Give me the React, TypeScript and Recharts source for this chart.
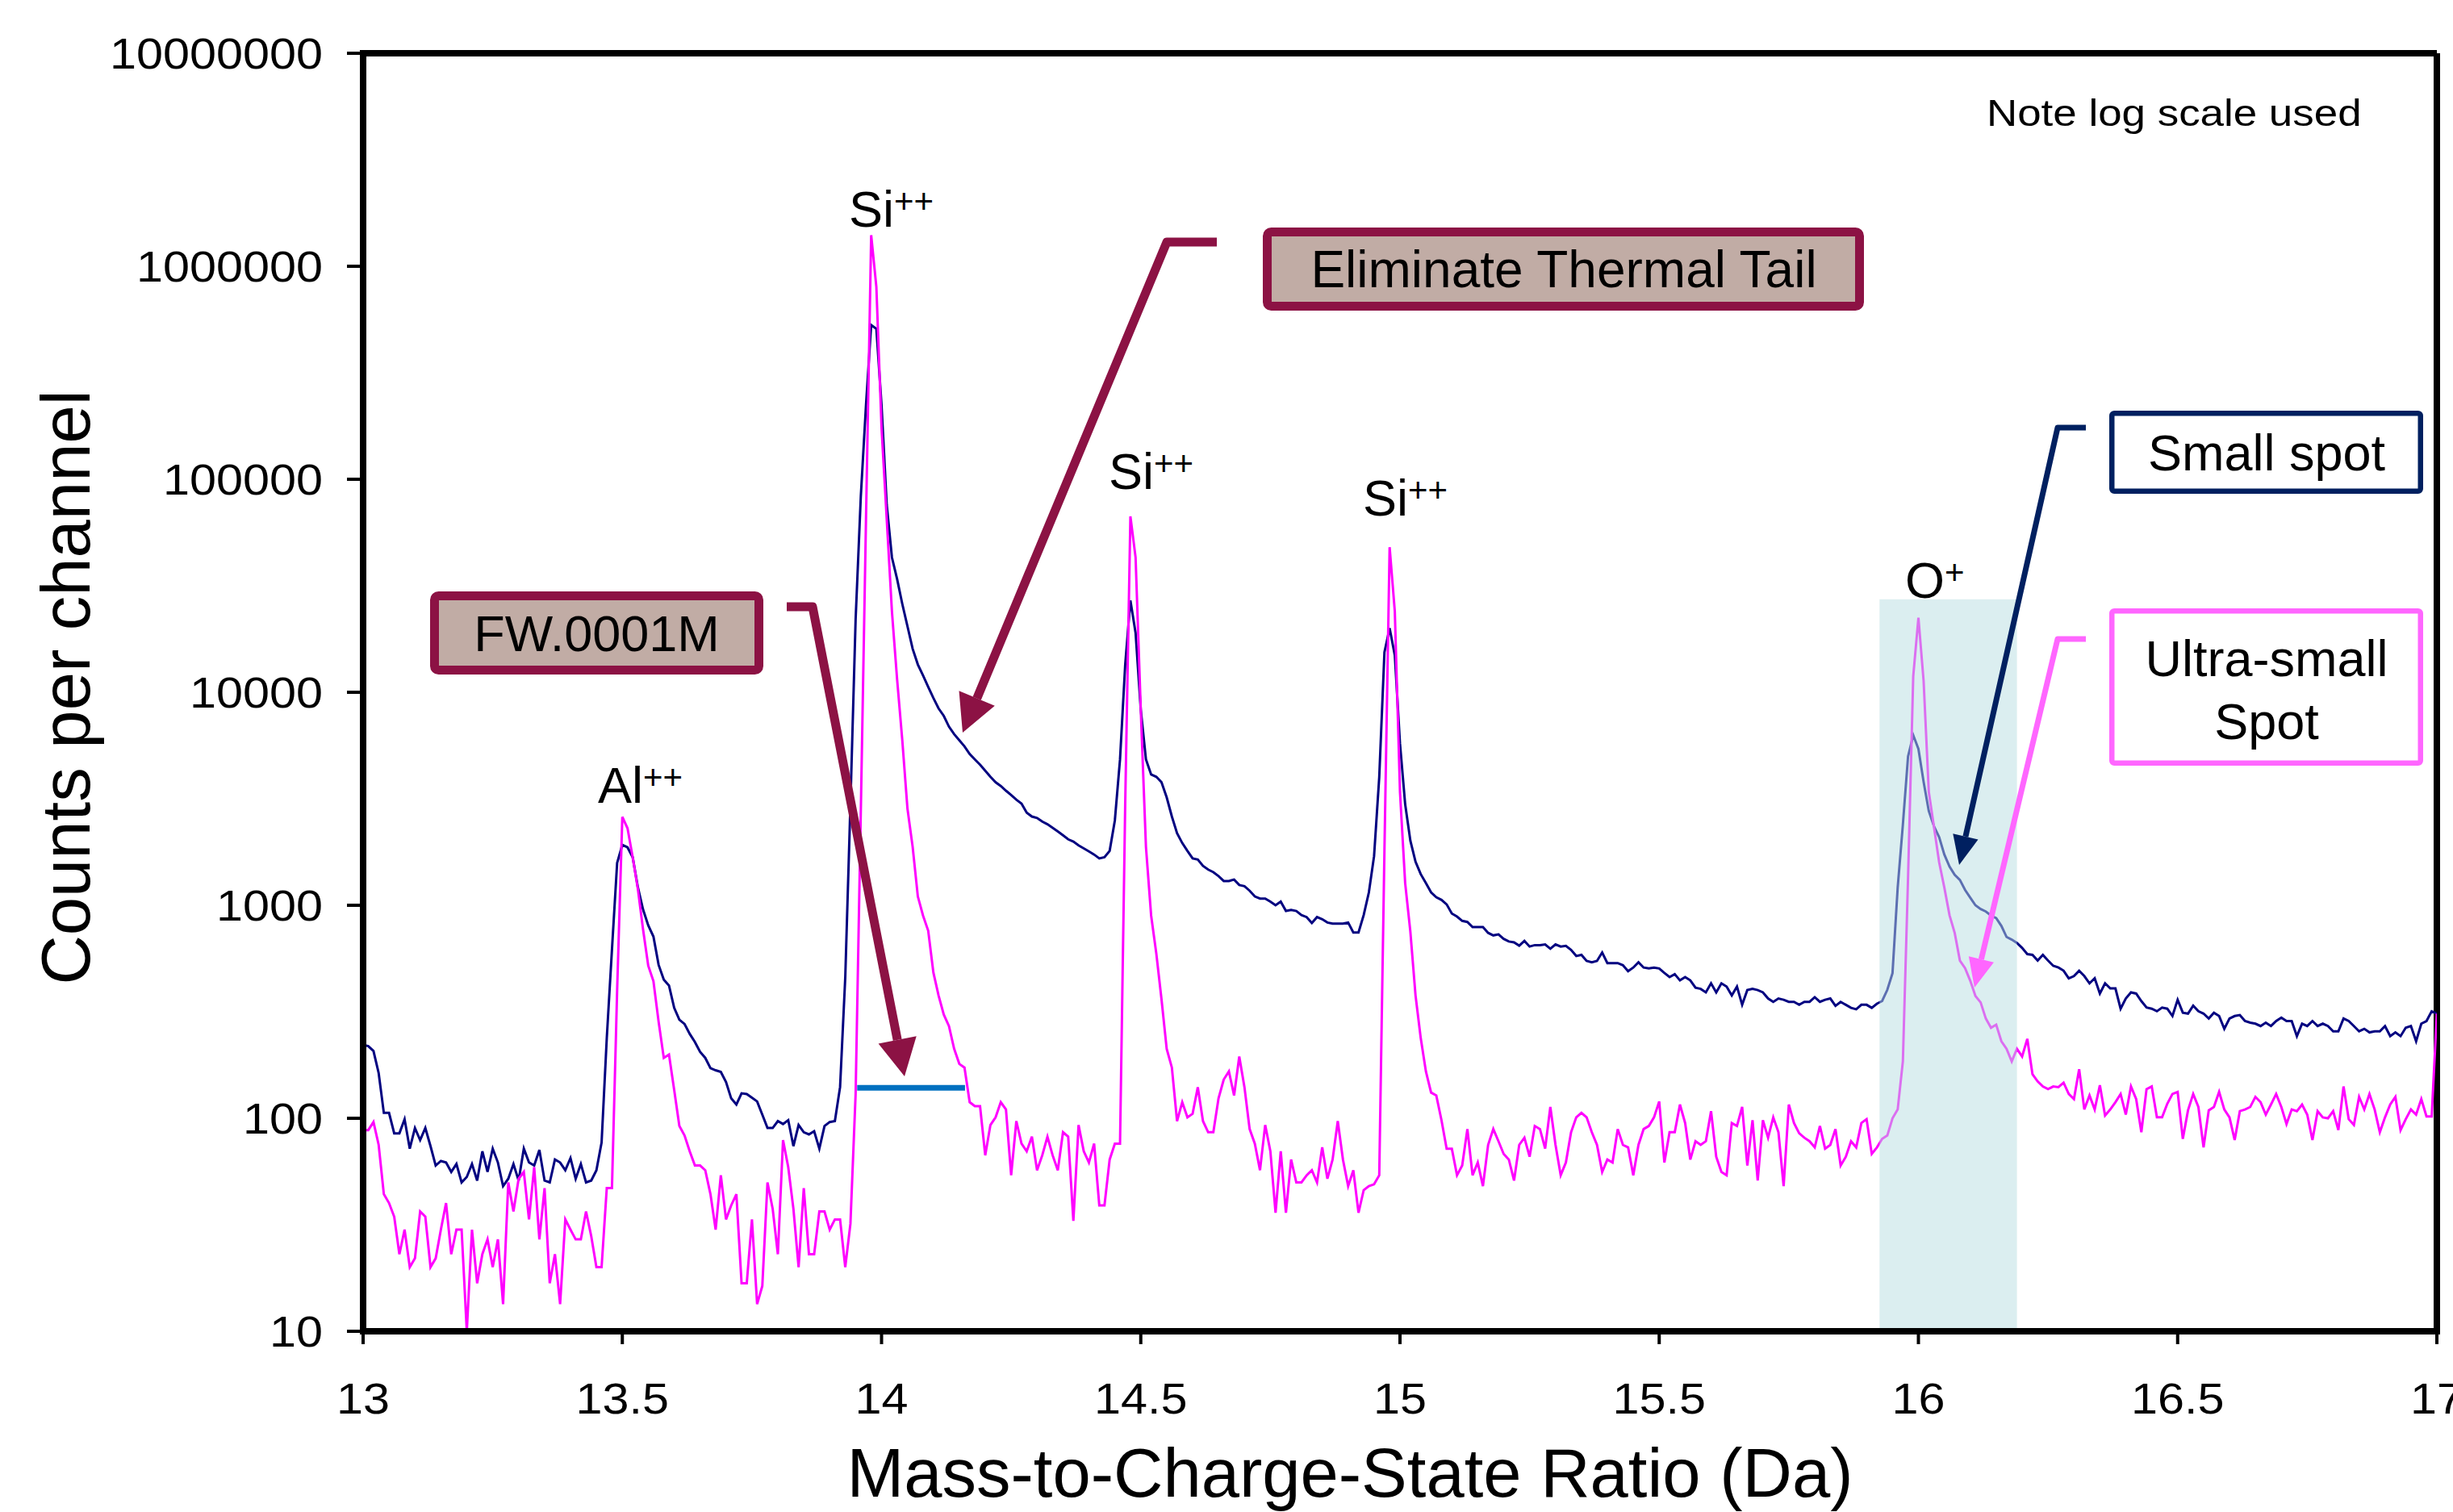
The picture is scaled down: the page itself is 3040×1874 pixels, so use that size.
import { LineChart, Line, XAxis, YAxis, ReferenceArea, ReferenceLine } from "recharts";

// channel grid of the spectrum (Da)
const MASS_START = 13;
const MASS_STEP = 0.01;

// counts per channel, "Small spot" acquisition (one value per 0.01 Da)
const smallSpot = [
  221, 218, 207, 163, 106, 106, 85, 85, 99, 72,
  90, 79, 90, 74, 60, 63, 62, 56, 61, 50,
  53, 61, 51, 70, 56, 72, 62, 48, 52, 61,
  51, 72, 62, 60, 71, 51, 50, 64, 62, 57,
  65, 52, 61, 50, 51, 57, 77, 238, 620, 1580,
  1920, 1870, 1680, 1215, 955, 805, 713, 525, 447, 420,
  330, 290, 277, 249, 228, 205, 192, 172, 168, 165,
  148, 124, 116, 131, 130, 125, 120, 104, 90, 90,
  97, 94, 98, 74, 93, 86, 84, 87, 72, 92,
  96, 97, 140, 458, 3000, 22000, 83000, 223000, 530000, 508000,
  223000, 76000, 43000, 34000, 26000, 20400, 16000, 13500, 12000, 10600,
  9400, 8400, 7750, 6900, 6360, 5950, 5570, 5130, 4840, 4570,
  4280, 4010, 3780, 3630, 3450, 3290, 3130, 3000, 2720, 2610,
  2570, 2470, 2400, 2310, 2220, 2130, 2040, 1990, 1910, 1850,
  1790, 1730, 1660, 1680, 1800, 2500, 4840, 13500, 27000, 19000,
  8300, 4840, 4110, 4010, 3780, 3210, 2610, 2180, 1960, 1800,
  1660, 1640, 1530, 1470, 1430, 1370, 1300, 1300, 1320, 1245,
  1230, 1170, 1100, 1075, 1075, 1040, 1000, 1040, 940, 950,
  940, 900, 880, 825, 880, 860, 830, 820, 820, 820,
  830, 745, 745, 900, 1150, 1700, 4000, 15400, 20000, 14900,
  5750, 2980, 2010, 1600, 1400, 1270, 1150, 1090, 1060, 1010,
  915, 885, 845, 835, 790, 790, 790, 742, 722, 730,
  695, 676, 670, 646, 680, 640, 650, 650, 655, 625,
  655, 640, 645, 617, 578, 585, 548, 540, 548, 600,
  535, 535, 535, 523, 490, 510, 540, 510, 505, 510,
  505, 481, 460, 475, 444, 460, 444, 410, 405, 390,
  430, 390, 430, 415, 377, 415, 341, 400, 405, 400,
  390, 365, 352, 365, 360, 352, 352, 341, 352, 352,
  370, 352, 360, 365, 337, 352, 341, 330, 325, 341,
  341, 330, 345, 355, 401, 480, 1210, 2390, 5000, 6280,
  5420, 3800, 2770, 2350, 2090, 1730, 1520, 1390, 1315, 1180,
  1085, 1000, 960, 935, 895, 870, 800, 710, 690, 665,
  631, 590, 585, 550, 585, 550, 520, 510, 493, 454,
  465, 493, 465, 430, 454, 385, 430, 407, 407, 327,
  365, 390, 385, 355, 331, 327, 318, 331, 327, 302,
  360, 313, 310, 338, 318, 310, 294, 313, 302, 263,
  294, 302, 305, 286, 281, 278, 271, 281, 271, 286,
  297, 286, 286, 243, 278, 271, 286, 271, 278, 271,
  256, 256, 294, 286, 271, 256, 263, 253, 256, 256,
  271, 243, 253, 243, 266, 271, 230, 278, 286, 318,
  310,
];

// counts per channel, "Ultra-small Spot" acquisition
const ultraSmallSpot = [
  88, 88, 96, 75, 44, 40, 34.5, 23, 30, 20,
  22, 36.5, 34.5, 20, 22, 30, 40, 23, 30, 30,
  10, 30, 16.8, 23, 27, 20, 27, 13.4, 50, 36.5,
  52, 56, 33.5, 59, 27, 47, 16.8, 23, 13.4, 33.5,
  30, 27, 27, 36.5, 28, 20, 20, 47, 47, 400,
  2600, 2300, 1680, 1190, 770, 520, 440, 284, 192, 199,
  136, 92, 83, 70, 60, 60, 57, 44, 30, 54,
  33.5, 39, 44, 16.8, 16.8, 33.5, 13.4, 16.3, 50, 37.6,
  23, 79, 59, 37.6, 20, 47, 23, 23, 36.5, 36.5,
  30, 33.5, 33.5, 20, 32, 130, 2750, 65000, 1400000, 800000,
  174000, 65000, 24000, 11500, 5960, 2840, 1880, 1100, 895, 760,
  483, 377, 307, 271, 212, 180, 173, 119, 114, 114,
  67, 93, 101, 119, 110, 54, 97, 76, 70, 82,
  57, 67, 82, 67, 57, 86, 82, 33, 93, 70,
  62, 76, 39, 39, 64, 76, 76, 3000, 67000, 43000,
  8280, 1880, 895, 593, 362, 212, 173, 97, 119, 101,
  105, 140, 97, 86, 86, 124, 152, 166, 128, 195,
  140, 89, 76, 57, 93, 70, 36, 70, 36, 64,
  50, 50, 54, 57, 50, 73, 52, 64, 97, 64,
  48, 57, 36, 46, 48, 49, 54, 1800, 48000, 24000,
  3400, 1270, 752, 377, 238, 166, 132, 128, 98, 72,
  72, 54, 60, 89, 54, 62, 48, 75, 89, 78,
  68, 64, 51, 75, 81, 66, 92, 89, 72, 113,
  75, 54, 62, 86, 101, 106, 101, 86, 75, 56,
  64, 62, 89, 75, 73, 54, 75, 89, 92, 101,
  120, 62, 86, 86, 116, 95, 64, 78, 75, 78,
  108, 66, 56, 54, 95, 92, 113, 60, 98, 51,
  98, 81, 101, 86, 48, 116, 95, 85, 81, 78,
  73, 92, 72, 75, 89, 60, 66, 78, 73, 95,
  99, 68, 73, 80, 83, 100, 110, 185, 1350, 11900,
  22400, 11300, 3410, 2330, 1590, 1210, 898, 741, 550, 507,
  442, 375, 350, 294, 266, 275, 230, 212, 185, 212,
  195, 236, 161, 149, 141, 137, 141, 140, 147, 130,
  123, 170, 110, 128, 110, 143, 103, 110, 119, 130,
  104, 141, 123, 86, 137, 141, 101, 101, 117, 130,
  133, 80, 109, 130, 113, 73, 109, 113, 133, 110,
  101, 79, 108, 110, 113, 126, 119, 104, 116, 130,
  113, 94, 110, 108, 116, 104, 79, 108, 101, 100,
  108, 88, 141, 99, 93, 126, 110, 130, 110, 86,
  101, 116, 126, 88, 99, 110, 104, 123, 102, 102,
  310,
];

const xTicks = [13, 13.5, 14, 14.5, 15, 15.5, 16, 16.5, 17];
const yTicks = [10, 100, 1000, 10000, 100000, 1000000, 10000000];

// O+ highlight window and the FW.0001M width marker
const oxygenWindow = { from: 15.925, to: 16.19, top: 27300 };
const fwMarker = { from: 13.953, to: 14.161, level: 139 };

const data = smallSpot.map((v, i) => ({
  mass: Math.round((MASS_START + i * MASS_STEP) * 100) / 100,
  small: v,
  ultra: ultraSmallSpot[i],
}));

const FONT = "'Liberation Sans', Arial, Helvetica, sans-serif";
const MAROON = "#8C1244";
const NAVY_BOX = "#002060";
const PINK_BOX = "#FF66FF";

function YTick({ x, y, payload }: any) {
  return (
    <text
      transform={`translate(${x},${y}) scale(1.12,1)`}
      textAnchor="end"
      dy="0.36em"
      fontSize={53}
      fontFamily={FONT}
      fill="#000"
    >
      {payload.value}
    </text>
  );
}

function XTick({ x, y, payload }: any) {
  return (
    <text
      transform={`translate(${x},${y + 86}) scale(1.12,1)`}
      textAnchor="middle"
      fontSize={53}
      fontFamily={FONT}
      fill="#000"
    >
      {payload.value}
    </text>
  );
}

function Callout({ points, tip, color, width, head, half }: any) {
  const [cx, cy] = points[points.length - 1];
  const dx = tip[0] - cx;
  const dy = tip[1] - cy;
  const len = Math.hypot(dx, dy);
  const ux = dx / len;
  const uy = dy / len;
  const bx = tip[0] - ux * head;
  const by = tip[1] - uy * head;
  const nx = -uy;
  const ny = ux;
  const path = [...points, [bx, by]].map((p: number[]) => p.join(",")).join(" ");
  return (
    <g>
      <polyline points={path} fill="none" stroke={color} strokeWidth={width} strokeLinejoin="round" />
      <polygon
        points={`${tip[0]},${tip[1]} ${bx + nx * half},${by + ny * half} ${bx - nx * half},${by - ny * half}`}
        fill={color}
      />
    </g>
  );
}

function IonLabel({ x, y, base, charge }: any) {
  return (
    <text x={x} y={y} fontSize={63} fontFamily={FONT} fill="#000">
      {base}
      <tspan fontSize={42} dy={-17}>
        {charge}
      </tspan>
    </text>
  );
}

export default function App() {
  return (
    <div style={{ position: "absolute", left: 0, top: 0, width: 3040, height: 1874, background: "#fff" }}>
      <LineChart width={3040} height={1874} data={data} margin={{ top: 66, right: 20, bottom: 0, left: 0 }}>
        <XAxis
          dataKey="mass"
          type="number"
          domain={[13, 17]}
          ticks={xTicks}
          allowDataOverflow
          height={224}
          tickSize={16}
          tickMargin={0}
          tick={<XTick />}
          axisLine={{ stroke: "#000", strokeWidth: 8, strokeLinecap: "square" }}
          tickLine={{ stroke: "#000", strokeWidth: 4 }}
        />
        <YAxis
          scale="log"
          type="number"
          domain={[10, 10000000]}
          ticks={yTicks}
          allowDataOverflow
          width={450}
          tickSize={20}
          tickMargin={30}
          tick={<YTick />}
          axisLine={{ stroke: "#000", strokeWidth: 8, strokeLinecap: "square" }}
          tickLine={{ stroke: "#000", strokeWidth: 4 }}
        />
        <ReferenceLine y={10000000} stroke="#000" strokeWidth={8} />
        <ReferenceLine x={17} stroke="#000" strokeWidth={8} />
        <Line
          type="linear"
          dataKey="small"
          stroke="#000080"
          strokeWidth={3}
          dot={false}
          isAnimationActive={false}
        />
        <Line
          type="linear"
          dataKey="ultra"
          stroke="#FF00FF"
          strokeWidth={3}
          dot={false}
          isAnimationActive={false}
        />
        <ReferenceLine
          segment={[
            { x: fwMarker.from, y: fwMarker.level },
            { x: fwMarker.to, y: fwMarker.level },
          ]}
          stroke="#0070C0"
          strokeWidth={7}
        />
        <ReferenceArea
          x1={oxygenWindow.from}
          x2={oxygenWindow.to}
          y1={10}
          y2={oxygenWindow.top}
          fill="#B7DDE2"
          fillOpacity={0.5}
          stroke="none"
          zIndex={450}
        />
      </LineChart>

      <svg
        width={3040}
        height={1874}
        style={{ position: "absolute", left: 0, top: 0, pointerEvents: "none" }}
      >
        {/* axis titles */}
        <text x={1673} y={1855} textAnchor="middle" fontSize={85} fontFamily={FONT} fill="#000">
          Mass-to-Charge-State Ratio (Da)
        </text>
        <text
          transform="translate(111,852) rotate(-90)"
          textAnchor="middle"
          fontSize={85}
          fontFamily={FONT}
          fill="#000"
        >
          Counts per channel
        </text>

        <text transform="translate(2462,156) scale(1.15,1)" fontSize={46} fontFamily={FONT} fill="#000">
          Note log scale used
        </text>

        {/* peak labels */}
        <IonLabel x={741} y={995} base="Al" charge="++" />
        <IonLabel x={1052} y={281} base="Si" charge="++" />
        <IonLabel x={1374} y={606} base="Si" charge="++" />
        <IonLabel x={1689} y={639} base="Si" charge="++" />
        <IonLabel x={2361} y={741} base="O" charge="+" />

        {/* Eliminate Thermal Tail */}
        <Callout points={[[1508, 300], [1446, 300]]} tip={[1193, 908]} color={MAROON} width={11} head={46} half={24} />
        <rect x={1570.5} y={287.5} width={734} height={92} rx={5} fill="#C1ACA5" stroke={MAROON} strokeWidth={11} />
        <text x={1938} y={356} textAnchor="middle" fontSize={64} fontFamily={FONT} fill="#000">
          Eliminate Thermal Tail
        </text>

        {/* FW.0001M */}
        <Callout points={[[975, 752], [1007, 752]]} tip={[1121, 1334]} color={MAROON} width={11} head={46} half={24} />
        <rect x={538.5} y={738.5} width={402} height={92} rx={5} fill="#C1ACA5" stroke={MAROON} strokeWidth={11} />
        <text x={739.5} y={807} textAnchor="middle" fontSize={63} fontFamily={FONT} fill="#000">
          FW.0001M
        </text>

        {/* Small spot */}
        <Callout points={[[2585, 530], [2550, 530]]} tip={[2428, 1072]} color={NAVY_BOX} width={7} head={36} half={16} />
        <rect x={2617.25} y={512.25} width={382.5} height={96.5} rx={3} fill="#fff" stroke={NAVY_BOX} strokeWidth={6.5} />
        <text x={2809} y={583} textAnchor="middle" fontSize={63} fontFamily={FONT} fill="#000">
          Small spot
        </text>

        {/* Ultra-small Spot */}
        <Callout points={[[2585, 792], [2550, 792]]} tip={[2447, 1224]} color={PINK_BOX} width={7} head={36} half={16} />
        <rect x={2617.25} y={757.25} width={382.5} height={188.5} rx={3} fill="#fff" stroke={PINK_BOX} strokeWidth={6.5} />
        <text x={2809} y={838} textAnchor="middle" fontSize={63} fontFamily={FONT} fill="#000">
          Ultra-small
        </text>
        <text x={2809} y={916} textAnchor="middle" fontSize={63} fontFamily={FONT} fill="#000">
          Spot
        </text>
      </svg>
    </div>
  );
}
